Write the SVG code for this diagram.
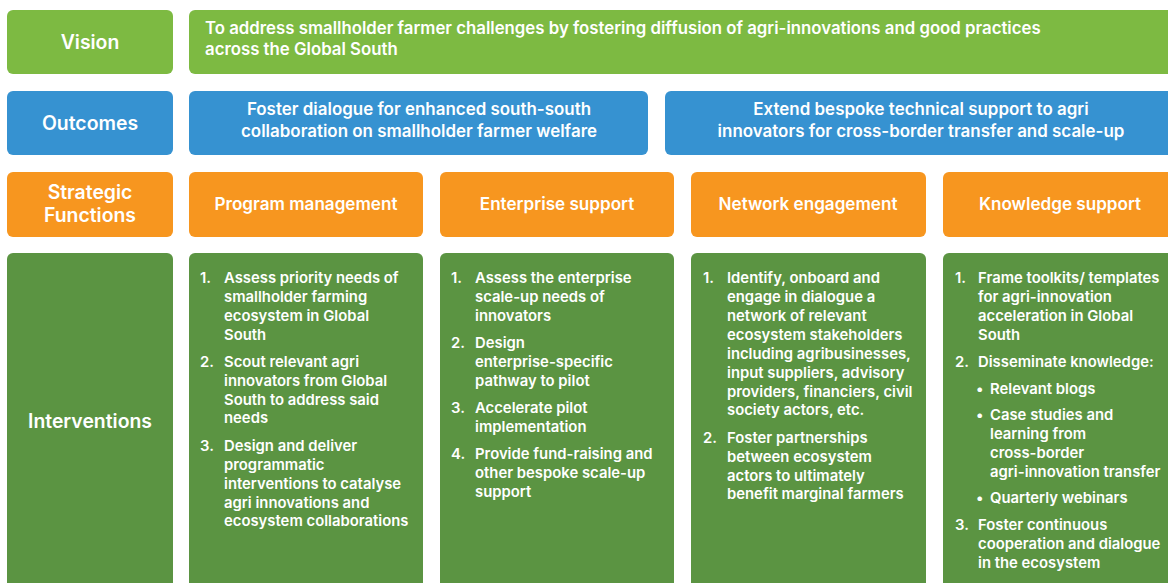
<svg xmlns="http://www.w3.org/2000/svg" width="1168" height="583" viewBox="0 0 1168 583">
<style>
text{font-family:Inter,"Noto Sans","Liberation Sans",sans-serif;font-weight:600;fill:#fff}
.hd{font-size:19.4px;text-anchor:middle}
.vt{font-size:16.8px}
.oc{font-size:16.95px;text-anchor:middle}
.fn{font-size:17.1px;text-anchor:middle}
.it{font-size:14.85px}
.lg{fill:#7dba42}.bl{fill:#3692d1}.or{fill:#f7961f}.dg{fill:#5b9442}
</style>
<rect width="1168" height="583" fill="#fff"/>
<g id="vision-label"><rect class="lg" x="7" y="10" width="166" height="64" rx="6"/><text class="hd" x="90" y="49">Vision</text></g>
<g id="vision-text"><rect class="lg" x="189" y="10" width="990" height="64" rx="6"/>
<text class="vt" x="205" y="34">To address smallholder farmer challenges by fostering diffusion of agri-innovations and good practices</text>
<text class="vt" x="205" y="55">across the Global South</text></g>
<g id="outcomes-label"><rect class="bl" x="7" y="91" width="166" height="64" rx="6"/><text class="hd" x="90" y="130">Outcomes</text></g>
<g id="outcome-1"><rect class="bl" x="189" y="91" width="459" height="64" rx="6"/>
<text class="oc" x="419" y="115">Foster dialogue for enhanced south-south</text>
<text class="oc" x="419" y="137">collaboration on smallholder farmer welfare</text></g>
<g id="outcome-2"><rect class="bl" x="665" y="91" width="514" height="64" rx="6"/>
<text class="oc" x="921" y="115">Extend bespoke technical support to agri</text>
<text class="oc" x="921" y="137">innovators for cross-border transfer and scale-up</text></g>
<g id="functions-label"><rect class="or" x="7" y="172" width="166" height="65" rx="6"/>
<text class="hd" x="90" y="199">Strategic</text><text class="hd" x="90" y="222">Functions</text></g>
<g id="fn-program"><rect class="or" x="189" y="172" width="234" height="65" rx="6"/><text class="fn" x="306" y="210">Program management</text></g>
<g id="fn-enterprise"><rect class="or" x="440" y="172" width="234" height="65" rx="6"/><text class="fn" x="557" y="210">Enterprise support</text></g>
<g id="fn-network"><rect class="or" x="691" y="172" width="235" height="65" rx="6"/><text class="fn" x="808" y="210">Network engagement</text></g>
<g id="fn-knowledge"><rect class="or" x="943" y="172" width="236" height="65" rx="6"/><text class="fn" x="1060" y="210">Knowledge support</text></g>
<g id="interventions-label"><rect class="dg" x="7" y="253" width="166" height="345" rx="6"/><text class="hd" x="90" y="428">Interventions</text></g>
<g id="int-program"><rect class="dg" x="189" y="253" width="234" height="345" rx="6"/>
<text class="it" x="200" y="283">1.</text>
<text class="it" x="224" y="283">Assess priority needs of</text>
<text class="it" x="224" y="302">smallholder farming</text>
<text class="it" x="224" y="321">ecosystem in Global</text>
<text class="it" x="224" y="340">South</text>
<text class="it" x="200" y="367">2.</text>
<text class="it" x="224" y="367">Scout relevant agri</text>
<text class="it" x="224" y="386">innovators from Global</text>
<text class="it" x="224" y="405">South to address said</text>
<text class="it" x="224" y="423">needs</text>
<text class="it" x="200" y="451">3.</text>
<text class="it" x="224" y="451">Design and deliver</text>
<text class="it" x="224" y="470">programmatic</text>
<text class="it" x="224" y="489">interventions to catalyse</text>
<text class="it" x="224" y="508">agri innovations and</text>
<text class="it" x="224" y="526">ecosystem collaborations</text></g>
<g id="int-enterprise"><rect class="dg" x="440" y="253" width="234" height="345" rx="6"/>
<text class="it" x="451" y="283">1.</text>
<text class="it" x="475" y="283">Assess the enterprise</text>
<text class="it" x="475" y="302">scale-up needs of</text>
<text class="it" x="475" y="321">innovators</text>
<text class="it" x="451" y="348">2.</text>
<text class="it" x="475" y="348">Design</text>
<text class="it" x="475" y="367">enterprise-specific</text>
<text class="it" x="475" y="386">pathway to pilot</text>
<text class="it" x="451" y="413">3.</text>
<text class="it" x="475" y="413">Accelerate pilot</text>
<text class="it" x="475" y="432">implementation</text>
<text class="it" x="451" y="459">4.</text>
<text class="it" x="475" y="459">Provide fund-raising and</text>
<text class="it" x="475" y="478">other bespoke scale-up</text>
<text class="it" x="475" y="497">support</text></g>
<g id="int-network"><rect class="dg" x="691" y="253" width="235" height="345" rx="6"/>
<text class="it" x="703" y="283">1.</text>
<text class="it" x="727" y="283">Identify, onboard and</text>
<text class="it" x="727" y="302">engage in dialogue a</text>
<text class="it" x="727" y="321">network of relevant</text>
<text class="it" x="727" y="340">ecosystem stakeholders</text>
<text class="it" x="727" y="359">including agribusinesses,</text>
<text class="it" x="727" y="378">input suppliers, advisory</text>
<text class="it" x="727" y="397">providers, financiers, civil</text>
<text class="it" x="727" y="415">society actors, etc.</text>
<text class="it" x="703" y="443">2.</text>
<text class="it" x="727" y="443">Foster partnerships</text>
<text class="it" x="727" y="462">between ecosystem</text>
<text class="it" x="727" y="481">actors to ultimately</text>
<text class="it" x="727" y="499">benefit marginal farmers</text></g>
<g id="int-knowledge"><rect class="dg" x="943" y="253" width="236" height="345" rx="6"/>
<text class="it" x="955" y="283">1.</text>
<text class="it" x="978" y="283">Frame toolkits/ templates</text>
<text class="it" x="978" y="302">for agri-innovation</text>
<text class="it" x="978" y="321">acceleration in Global</text>
<text class="it" x="978" y="340">South</text>
<text class="it" x="955" y="367">2.</text>
<text class="it" x="978" y="367">Disseminate knowledge:</text>
<text class="it" x="976" y="394">•</text>
<text class="it" x="990" y="394">Relevant blogs</text>
<text class="it" x="976" y="420">•</text>
<text class="it" x="990" y="420">Case studies and</text>
<text class="it" x="990" y="439">learning from</text>
<text class="it" x="990" y="458">cross-border</text>
<text class="it" x="990" y="477">agri-innovation transfer</text>
<text class="it" x="976" y="503">•</text>
<text class="it" x="990" y="503">Quarterly webinars</text>
<text class="it" x="955" y="530">3.</text>
<text class="it" x="978" y="530">Foster continuous</text>
<text class="it" x="978" y="549">cooperation and dialogue</text>
<text class="it" x="978" y="568">in the ecosystem</text></g>
</svg>
